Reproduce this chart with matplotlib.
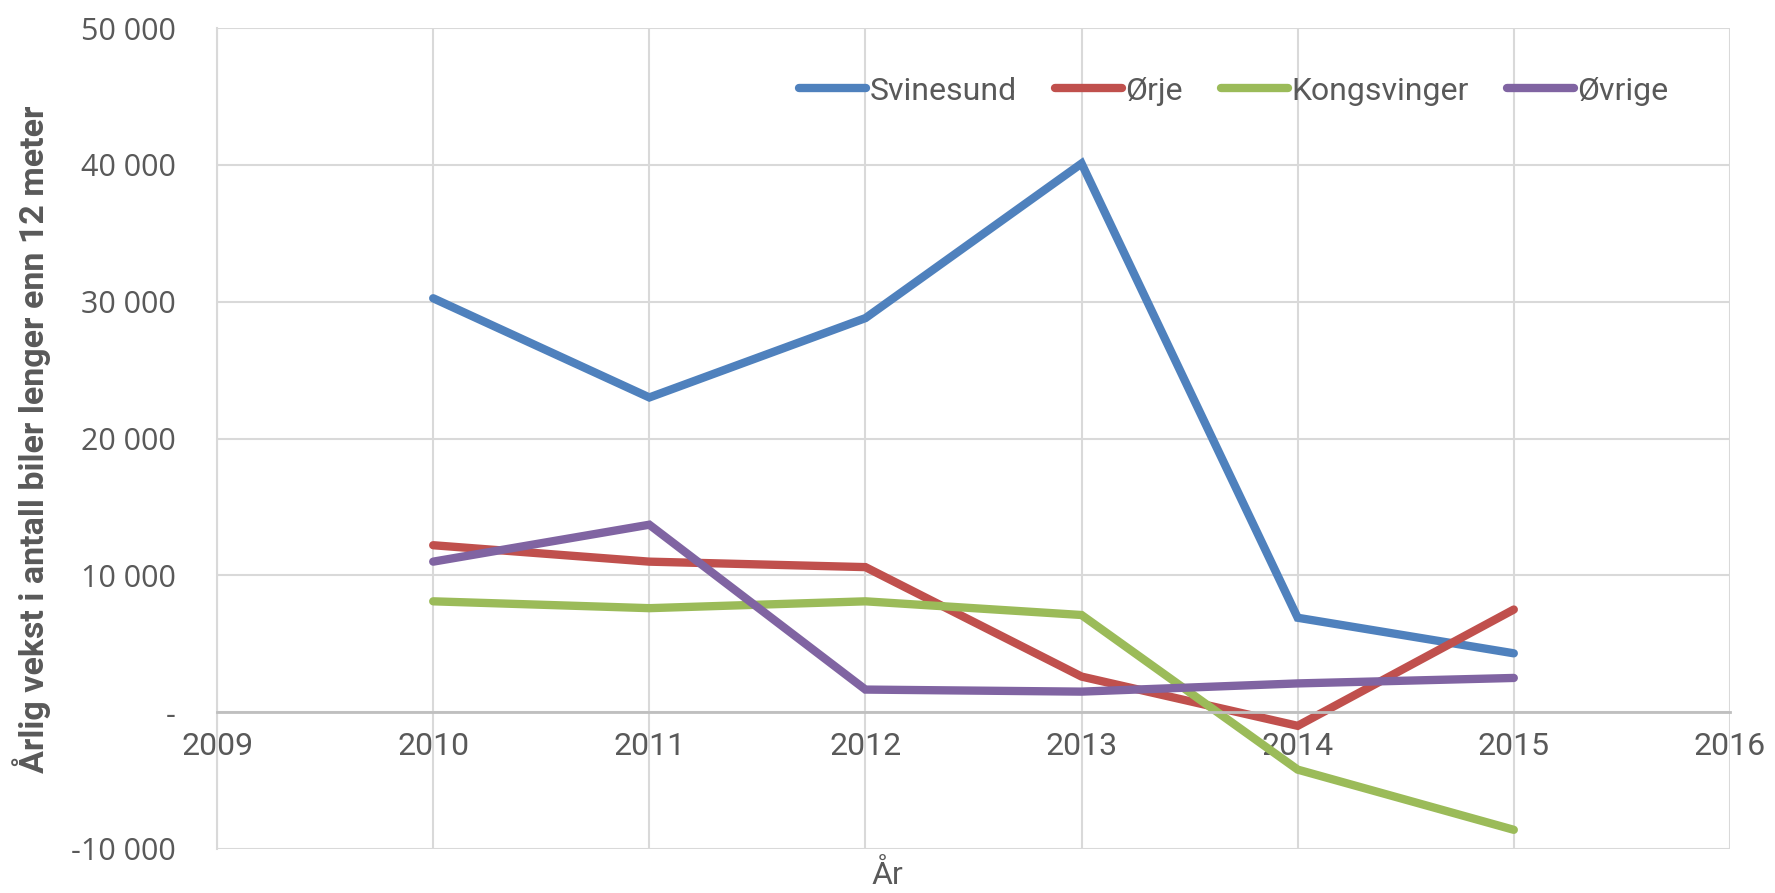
import numpy as np
import matplotlib.pyplot as plt
from matplotlib.ticker import FuncFormatter

years = [2010, 2011, 2012, 2013, 2014, 2015]
svinesund = [30250, 23000, 28800, 40100, 6900, 4300]
orje = [12200, 11000, 10600, 2600, -1000, 7500]
kongsvinger = [8100, 7600, 8100, 7100, -4200, -8600]
ovrige = [11000, 13700, 1650, 1500, 2100, 2500]

series = [
    ('Svinesund', svinesund, '#4F81BD'),
    ('Ørje', orje, '#C0504D'),
    ('Kongsvinger', kongsvinger, '#9BBB59'),
    ('Øvrige', ovrige, '#8064A2'),
]

narrow = ['Roboto', 'DejaVu Sans']
txt = '#595959'

fig = plt.figure(figsize=(17.75, 8.93), dpi=100)
ax = fig.add_axes([0.1223, 0.0493, 0.8523, 0.9193])

for navn, verdier, farge in series:
    ax.plot(years, verdier, color=farge, lw=6, label=navn, solid_capstyle='round',
            solid_joinstyle='miter')

ax.set_xlim(2009, 2016)
ax.set_ylim(-10000, 50000)
ax.set_xticks(range(2009, 2017))
ax.set_yticks(range(-10000, 50001, 10000))
ax.grid(True, color='#d9d9d9', lw=1.5)
ax.set_axisbelow(True)

def fmt(v, pos):
    if v == 0:
        return '-'
    return f'{int(v):,}'.replace(',', ' ')

ax.yaxis.set_major_formatter(FuncFormatter(fmt))

for s in ['top', 'right']:
    ax.spines[s].set_visible(False)
ax.spines['bottom'].set_position(('data', 0))
ax.spines['bottom'].set_color('#bfbfbf')
ax.spines['bottom'].set_linewidth(2)
ax.spines['left'].set_color('#d9d9d9')
ax.spines['left'].set_linewidth(1.5)

ax.tick_params(axis='both', length=0, colors=txt)
ax.tick_params(axis='x', pad=14)
ax.tick_params(axis='y', pad=30)
for lab in ax.get_xticklabels():
    lab.set_family(narrow)
    lab.set_fontsize(23)
for lab in ax.get_yticklabels():
    lab.set_family(['Open Sans', 'DejaVu Sans'])
    lab.set_fontsize(22)

fig.text(0.018, 0.508, 'Årlig vekst i antall biler lenger enn 12 meter', rotation=90,
         ha='center', va='center', fontsize=24.5, fontweight='bold', color=txt,
         family=narrow)
fig.text(0.5, 0.02, 'År', ha='center', va='center', fontsize=23, color=txt,
         family=narrow)

leg = ax.legend(ncol=4, frameon=False, loc='center', bbox_to_anchor=(0.695, 0.898),
                bbox_transform=fig.transFigure, handlelength=2.1, handletextpad=0.1,
                columnspacing=1.2, prop={'family': narrow, 'size': 23})
for t in leg.get_texts():
    t.set_color(txt)

fig.savefig('out.png', dpi=100)
